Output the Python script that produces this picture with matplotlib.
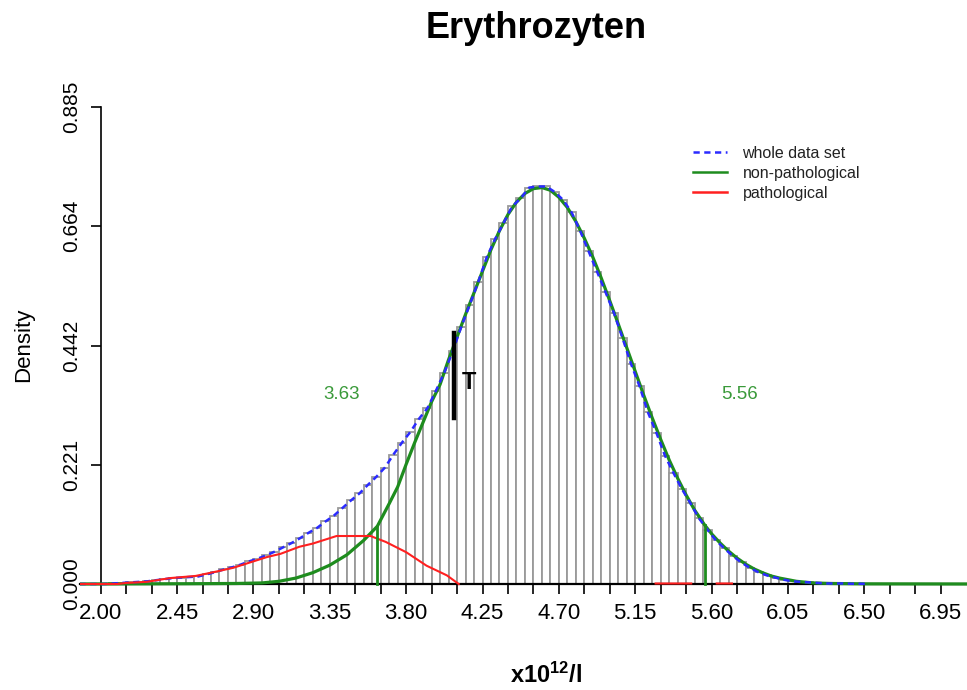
import numpy as np
import matplotlib
matplotlib.use('Agg')
import matplotlib.pyplot as plt
from matplotlib.lines import Line2D

plt.rcParams['font.family'] = ['Liberation Sans', 'DejaVu Sans']
plt.rcParams['mathtext.fontset'] = 'custom'
plt.rcParams['mathtext.bf'] = 'Liberation Sans:bold'
plt.rcParams['mathtext.rm'] = 'Liberation Sans'

# histogram (density), bins of 0.05 starting at 1.85
bin_start = 1.85
bin_width = 0.05
hist_density = [
    0.000, 0.000, 0.000,
    0.000, 0.001, 0.002, 0.003, 0.004, 0.005, 0.007, 0.009, 0.011, 0.012,
    0.013, 0.014, 0.018, 0.022, 0.027, 0.031, 0.036, 0.042, 0.047, 0.053,
    0.060, 0.068, 0.076, 0.085, 0.095, 0.104, 0.116, 0.127, 0.141, 0.155,
    0.168, 0.184, 0.199, 0.216, 0.240, 0.262, 0.282, 0.306, 0.326, 0.358,
    0.392, 0.432, 0.477, 0.518, 0.560, 0.606, 0.640, 0.670, 0.700, 0.715,
    0.735, 0.737, 0.737, 0.727, 0.712, 0.689, 0.655, 0.617, 0.579, 0.541,
    0.502, 0.456, 0.408, 0.367, 0.318, 0.280, 0.238, 0.206, 0.176, 0.150,
    0.122, 0.101, 0.081, 0.066, 0.052, 0.040, 0.030, 0.022, 0.016, 0.012,
    0.008, 0.005, 0.004, 0.003, 0.002, 0.001, 0.001, 0.001, 0.0005, 0.0005,
    0.0003,
]

# non-pathological density curve
green_x = [1.85, 2.50, 2.80, 2.95, 3.05, 3.15, 3.25, 3.35, 3.45, 3.55, 3.63,
           3.70, 3.75, 3.80, 3.85, 3.90, 3.95, 4.00, 4.05, 4.10, 4.15, 4.20,
           4.25, 4.30, 4.35, 4.40, 4.45, 4.50, 4.55, 4.60, 4.65, 4.70, 4.75,
           4.80, 4.85, 4.90, 4.95, 5.00, 5.05, 5.10, 5.15, 5.20, 5.25, 5.30,
           5.35, 5.40, 5.45, 5.50, 5.56, 5.60, 5.65, 5.70, 5.75, 5.80, 5.85,
           5.90, 5.95, 6.00, 6.10, 6.20, 6.30, 6.50, 7.20]
green_y = [0.0, 0.0005, 0.001, 0.002, 0.005, 0.011, 0.021, 0.035, 0.054, 0.081, 0.107,
           0.149, 0.180, 0.222, 0.262, 0.300, 0.338, 0.370, 0.416, 0.458, 0.500, 0.540,
           0.580, 0.620, 0.655, 0.685, 0.708, 0.724, 0.733, 0.735, 0.730, 0.717, 0.698,
           0.672, 0.641, 0.606, 0.567, 0.525, 0.482, 0.438, 0.394, 0.350, 0.308, 0.268,
           0.230, 0.196, 0.165, 0.137, 0.109, 0.093, 0.076, 0.061, 0.048, 0.037, 0.028,
           0.021, 0.015, 0.011, 0.005, 0.002, 0.001, 0.0003, 0.0]

# pathological density curve (nan = gap)
red_x = [1.85, 2.10, 2.15, 2.27, 2.41, 2.56, 2.68, 2.78, 2.90, 2.98, 3.06, 3.17,
         3.25, 3.39, 3.59, 3.68, 3.80, 3.92, 4.04, 4.11, np.nan,
         5.27, 5.48, np.nan, 5.63, 5.72]
red_y = [0.0, 0.0, 0.002, 0.004, 0.011, 0.015, 0.023, 0.030, 0.042, 0.050, 0.056, 0.069,
         0.075, 0.089, 0.089, 0.078, 0.059, 0.034, 0.016, 0.0, np.nan,
         0.001, 0.001, np.nan, 0.001, 0.001]

cutoffs = [3.63, 5.56]
threshold = 4.08
y_ticks = [0.000, 0.221, 0.442, 0.664, 0.885]

green = '#1e8c1e'
blue = '#2b2bff'
red = '#ff2020'

fig = plt.figure(figsize=(9.67, 6.90), dpi=100)
ax = fig.add_axes([80 / 967, 100 / 690, 887 / 967, 495 / 690])

centers = bin_start + bin_width * (np.arange(len(hist_density)) + 0.5)
ax.bar(centers, hist_density, width=bin_width, color='white',
       edgecolor='#9a9a9a', linewidth=1.3, zorder=1)

ax.plot(green_x, green_y, color=green, lw=2.3, zorder=3)
ax.plot(centers, hist_density, color=blue, lw=1.8, dashes=(2.5, 1.8), zorder=3)
ax.plot(red_x, red_y, color=red, lw=1.5, zorder=3)

for c in cutoffs:
    top = np.interp(c, green_x, green_y)
    ax.plot([c, c], [0, top], color=green, lw=2.0, zorder=3)

ax.text(3.42, 0.352, '%.2f' % cutoffs[0], color='#3a9a3a', fontsize=13.5,
        ha='center', va='center')
ax.text(5.765, 0.352, '%.2f' % cutoffs[1], color='#3a9a3a', fontsize=13.5,
        ha='center', va='center')

ax.plot([threshold, threshold], [0.308, 0.465], color='black', lw=3.2, zorder=4)
ax.text(threshold + 0.09, 0.373, 'T', fontsize=17, fontweight='bold',
        ha='center', va='center')

ax.set_xlim(1.878, 7.105)
ax.set_ylim(-0.0111, 0.9066)

ax.spines['top'].set_visible(False)
ax.spines['right'].set_visible(False)
ax.spines['left'].set_position(('data', 2.0))
ax.spines['left'].set_bounds(0, 0.885)
ax.spines['bottom'].set_position(('data', 0))
ax.spines['left'].set_linewidth(1.2)
ax.spines['bottom'].set_linewidth(1.6)

ax.set_yticks(y_ticks)
ax.set_yticklabels(['%.3f' % v for v in y_ticks], rotation=90, va='center')
ax.set_xticks(np.arange(2.0, 7.0, 0.45))
ax.set_xticklabels(['%.2f' % v for v in np.arange(2.0, 7.0, 0.45)])
ax.set_xticks(np.arange(2.0, 7.0, 0.15), minor=True)
ax.tick_params(axis='both', which='both', direction='out', length=7, width=1.2)
ax.tick_params(axis='x', labelsize=16, pad=7)
ax.tick_params(axis='y', labelsize=15, pad=7)

handles = [Line2D([], [], color=blue, lw=1.8, dashes=(2.5, 1.8)),
           Line2D([], [], color=green, lw=1.8),
           Line2D([], [], color=red, lw=1.8)]
fig.legend(handles, ['whole data set', 'non-pathological', 'pathological'],
           loc='upper left', bbox_to_anchor=(693 / 967, 1 - 146 / 690),
           frameon=False, fontsize=11.5, handlelength=2.1, handletextpad=1.0,
           labelspacing=0.3, borderpad=0, borderaxespad=0, labelcolor='#222222')

fig.text(536 / 967, 1 - 28 / 690, 'Erythrozyten', fontsize=26,
         fontweight='bold', ha='center', va='center')
fig.text(24 / 967, 0.5, 'Density', fontsize=16, rotation=90,
         ha='center', va='center')
fig.text(546 / 967, 2 / 690, r'$\mathbf{x10^{12}/l}$', fontsize=17,
         ha='center', va='bottom')

fig.savefig('out.png', dpi=100)
